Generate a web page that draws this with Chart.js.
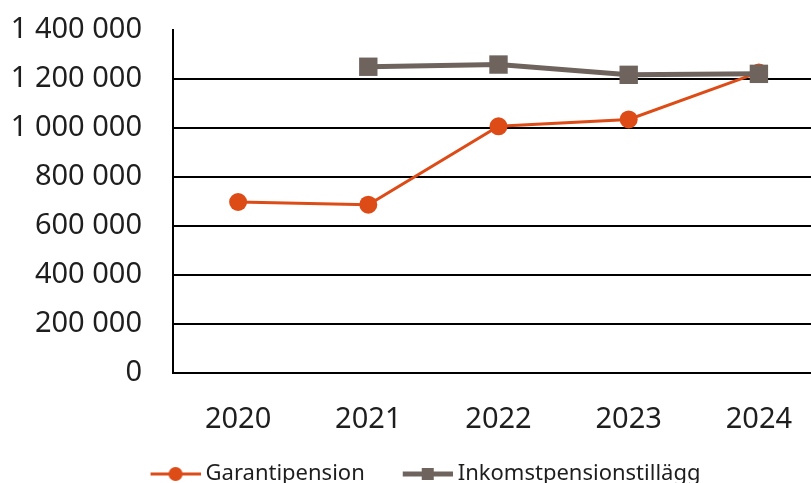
<!DOCTYPE html>
<html lang="sv">
<head>
  <meta charset="UTF-8" />
  <title>Garantipension och inkomstpensionstillägg</title>
  <script src="https://cdn.jsdelivr.net/npm/chart.js@4.4.0/dist/chart.umd.min.js"></script>
  <style>
    body { margin: 0; overflow: hidden; background: #fff; }
    #wrap { position: absolute; left: 0; top: 0; width: 837px; height: 495px; }
    #chart { width: 837px; height: 495px; }
  </style>
</head>
<body>
  <div id="wrap"><canvas id="chart" width="837" height="495"></canvas></div>
  <script>
    // values
    const years = ['2020', '2021', '2022', '2023', '2024'];
    const garantipension = [698000, 687000, 1007000, 1035000, 1227000];
    const inkomsttillagg = [null, 1250000, 1259000, 1217000, 1221000];
    const seriesNames = ['Garantipension', 'Inkomstpensionstillägg'];

    const orange = '#dd4b17';
    const grey = '#6f635e';
    const textCol = '#1e1e1e';

    function fmt(v) {
      return String(v).replace(/\B(?=(\d{3})+(?!\d))/g, ' ');
    }

    // line+marker pictures for the legend, first 20px left empty as item gap
    function legendIcon(color, lw, shape) {
      const c = document.createElement('canvas');
      c.width = 70; c.height = 20;
      const g = c.getContext('2d');
      g.strokeStyle = color;
      g.fillStyle = color;
      g.lineWidth = lw;
      g.beginPath();
      g.moveTo(20, 10); g.lineTo(70, 10);
      g.stroke();
      if (shape === 'circle') {
        g.beginPath();
        g.arc(45, 10, 7, 0, Math.PI * 2);
        g.fill();
      } else {
        g.fillRect(39, 4, 12, 12);
      }
      return c;
    }
    const icons = [legendIcon(orange, 3, 'circle'), legendIcon(grey, 5, 'rect')];

    Chart.defaults.font.family = '"Noto Sans", sans-serif';
    Chart.defaults.color = textCol;

    new Chart(document.getElementById('chart'), {
      type: 'line',
      data: {
        labels: years,
        datasets: [
          {
            label: seriesNames[0],
            data: garantipension,
            borderColor: orange,
            backgroundColor: orange,
            borderWidth: 3,
            pointStyle: 'circle',
            pointRadius: 9,
            pointBorderWidth: 0,
            order: 1
          },
          {
            label: seriesNames[1],
            data: inkomsttillagg,
            borderColor: grey,
            backgroundColor: grey,
            borderWidth: 5,
            pointStyle: 'rect',
            pointRadius: 13,
            pointBorderWidth: 0,
            order: 0
          }
        ]
      },
      options: {
        responsive: false,
        animation: false,
        layout: { padding: { top: 30, left: 0, right: 0, bottom: 0 } },
        plugins: {
          tooltip: { enabled: false },
          legend: {
            position: 'bottom',
            labels: {
              font: { size: 22 },
              color: textCol,
              padding: 24,
              usePointStyle: true,
              pointStyleWidth: 58,
              generateLabels: () => seriesNames.map((n, i) => ({
                text: n,
                pointStyle: icons[i],
                fillStyle: 'transparent',
                strokeStyle: 'transparent',
                lineWidth: 0,
                fontColor: textCol,
                hidden: false,
                datasetIndex: i
              }))
            }
          }
        },
        scales: {
          x: {
            offset: true,
            grid: { display: false },
            border: { display: false },
            ticks: { font: { size: 29 }, padding: 21 },
            afterFit: (s) => { s.height = 66; }
          },
          y: {
            min: 0,
            max: 1400000,
            ticks: {
              stepSize: 200000,
              font: { size: 29 },
              padding: 0,
              callback: (v) => fmt(v)
            },
            grid: {
              drawTicks: true,
              tickLength: 31,
              tickColor: 'rgba(0,0,0,0)',
              lineWidth: 2,
              color: (ctx) => ctx.tick && ctx.tick.value === 1400000 ? 'rgba(0,0,0,0)' : '#000'
            },
            border: { display: true, color: '#000', width: 2 },
            afterFit: (s) => { s.width = 173; }
          }
        }
      }
    });
  </script>
</body>
</html>
